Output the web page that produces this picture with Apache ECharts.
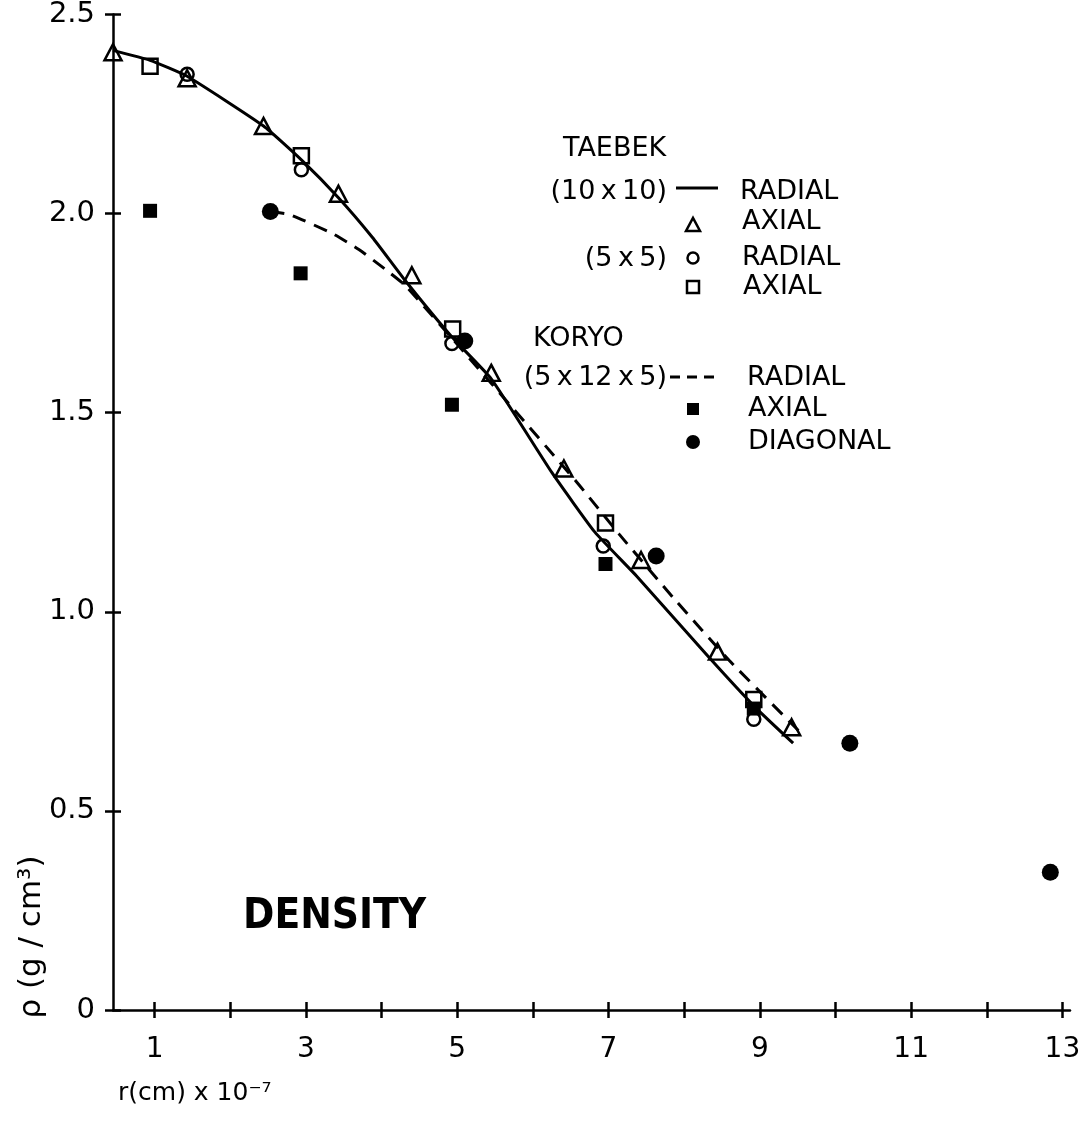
<!DOCTYPE html>
<html><head><meta charset="utf-8">
<script src="https://cdn.jsdelivr.net/npm/echarts@6/dist/echarts.min.js"></script>
<style>html,body{margin:0;padding:0;background:#fff}#c{width:1086px;height:1122px}</style>
</head><body><div id="c"></div>
<script>
// ---- data (r in 1e-7 cm, density g/cm3) ----
const xTickValues = [1,2,3,4,5,6,7,8,9,10,11,12,13];
const xLabelValues = [1,3,5,7,9,11,13];
const taebek10RadialLine = [[0.45,2.41],[0.94,2.385],[1.43,2.345],[2.44,2.22],[2.94,2.135],[3.43,2.04],[3.88,1.94],[4.32,1.83],[4.93,1.69],[5.45,1.585],[6.25,1.35],[6.82,1.20],[7.37,1.09],[8.33,0.885],[8.94,0.76],[9.44,0.67]];
const taebek10Axial = [[0.45,2.405],[1.43,2.34],[2.44,2.22],[3.43,2.05],[4.40,1.845],[5.45,1.60],[6.41,1.36],[7.43,1.13],[8.44,0.90],[9.42,0.71]];
const taebek5Radial = [[1.43,2.35],[2.94,2.11],[4.93,1.674],[6.93,1.165],[8.92,0.73]];
const taebek5Axial = [[0.94,2.37],[2.94,2.145],[4.94,1.71],[6.96,1.223],[8.92,0.78]];
const koryoRadialLine = [[2.53,2.005],[2.78,1.998],[3.35,1.95],[3.70,1.91],[4.05,1.86],[4.31,1.82],[5.10,1.65],[6.57,1.328],[7.14,1.195],[7.88,1.03],[8.6,0.877],[9.52,0.70]];
const koryoAxial = [[0.94,2.007],[2.93,1.85],[4.93,1.52],[6.96,1.12],[8.92,0.757]];
const koryoDiagonal = [[2.53,2.005],[5.10,1.68],[7.63,1.14],[10.19,0.67],[12.84,0.346]];

const FONT = '"DejaVu Sans", sans-serif';
const chart = echarts.init(document.getElementById('c'), null, {renderer:'canvas'});
const axisLineStyle = {color:'#000', width:2.5};
const openItem = {color:'rgba(255,255,255,0)', borderColor:'#000', borderWidth:2.5, opacity:1};
const TS = '\u2009';

function txt(x, y, s, opt) {
  return Object.assign({type:'text', x:x, y:y, silent:true, style:Object.assign({text:s, font:'27px ' + FONT, fill:'#000', align:'left', verticalAlign:'middle'}, opt || {})});
}

chart.setOption({
  animation:false,
  backgroundColor:'#fff',
  grid:{left:113, right:16, top:12, bottom:112, containLabel:false},
  xAxis:[
    {type:'value', min:0.45, max:13.1, position:'bottom',
     axisLine:{show:true, onZero:false, lineStyle:axisLineStyle},
     axisTick:{show:true, customValues:xTickValues, length:8, lineStyle:axisLineStyle},
     axisLabel:{customValues:xLabelValues, margin:26, fontSize:28, fontFamily:FONT, color:'#000'},
     splitLine:{show:false}},
    {type:'value', min:0.45, max:13.1, position:'bottom',
     axisLine:{show:false},
     axisTick:{show:true, inside:true, customValues:xTickValues, length:8, lineStyle:axisLineStyle},
     axisLabel:{show:false}, splitLine:{show:false}}
  ],
  yAxis:[
    {type:'value', min:0, max:2.5, interval:0.5, position:'left',
     axisLine:{show:true, onZero:false, lineStyle:axisLineStyle},
     axisTick:{show:true, length:8, lineStyle:axisLineStyle},
     axisLabel:{margin:18, fontSize:29, fontFamily:FONT, color:'#000',
       formatter:function(v){return v===0?'0':v.toFixed(1);}},
     splitLine:{show:false}},
    {type:'value', min:0, max:2.5, interval:0.5, position:'left',
     axisLine:{show:false},
     axisTick:{show:true, inside:true, length:8, lineStyle:axisLineStyle},
     axisLabel:{show:false}, splitLine:{show:false}}
  ],
  series:[
    {name:'TAEBEK (10x10) RADIAL', type:'line', data:taebek10RadialLine, smooth:0.15, symbol:'none',
     lineStyle:{color:'#000', width:3}, z:2},
    {name:'KORYO (5x12x5) RADIAL', type:'line', data:koryoRadialLine, smooth:0.15, symbol:'none',
     lineStyle:{color:'#000', width:3, type:[14,9]}, z:2},
    {name:'TAEBEK (10x10) AXIAL', type:'scatter', data:taebek10Axial, symbol:'triangle', symbolSize:[17,16],
     itemStyle:openItem, z:3},
    {name:'TAEBEK (5x5) RADIAL', type:'scatter', data:taebek5Radial, symbol:'circle', symbolSize:13,
     itemStyle:openItem, z:3},
    {name:'TAEBEK (5x5) AXIAL', type:'scatter', data:taebek5Axial, symbol:'rect', symbolSize:15,
     itemStyle:openItem, z:3},
    {name:'KORYO AXIAL', type:'scatter', data:koryoAxial, symbol:'rect', symbolSize:14,
     itemStyle:{color:'#000', opacity:1}, z:4},
    {name:'KORYO DIAGONAL', type:'scatter', data:koryoDiagonal, symbol:'circle', symbolSize:17,
     itemStyle:{color:'#000', opacity:1}, z:4}
  ],
  graphic:[
    txt(563,149,'TAEBEK'),
    txt(667,192,'(10'+TS+'x'+TS+'10)', {align:'right'}),
    {type:'line', silent:true, shape:{x1:676,y1:188,x2:718,y2:188}, style:{stroke:'#000', lineWidth:3}},
    txt(740,192,'RADIAL'),
    {type:'polygon', silent:true, shape:{points:[[686,231],[700,231],[693,218]]}, style:{fill:'none', stroke:'#000', lineWidth:2.5}},
    txt(742,222,'AXIAL'),
    txt(667,259,'(5'+TS+'x'+TS+'5)', {align:'right'}),
    {type:'circle', silent:true, shape:{cx:693, cy:258, r:5.5}, style:{fill:'none', stroke:'#000', lineWidth:2.5}},
    txt(742,258,'RADIAL'),
    {type:'rect', silent:true, shape:{x:687, y:281, width:12, height:12}, style:{fill:'none', stroke:'#000', lineWidth:2.5}},
    txt(743,287,'AXIAL'),
    txt(533,339,'KORYO'),
    txt(667,378,'(5'+TS+'x'+TS+'12'+TS+'x'+TS+'5)', {align:'right'}),
    {type:'line', silent:true, shape:{x1:670,y1:377,x2:718,y2:377}, style:{stroke:'#000', lineWidth:3, lineDash:[10,7]}},
    txt(747,378,'RADIAL'),
    {type:'rect', silent:true, shape:{x:687, y:403, width:12, height:12}, style:{fill:'#000'}},
    txt(748,409,'AXIAL'),
    {type:'circle', silent:true, shape:{cx:693, cy:442, r:7}, style:{fill:'#000'}},
    txt(748,442,'DIAGONAL'),
    txt(243,917,'DENSITY', {font:'bold 42px "DejaVu Sans Condensed", "DejaVu Sans", sans-serif'}),
    txt(118,1093,'r(cm) x 10\u207B\u2077', {font:'25px ' + FONT}),
    {type:'text', x:32, y:937, rotation:Math.PI/2, silent:true,
     style:{text:'\u03C1 (g / cm\u00B3)', font:'31px ' + FONT, fill:'#000', align:'center', verticalAlign:'middle'}}
  ]
});
</script>
</body></html>
